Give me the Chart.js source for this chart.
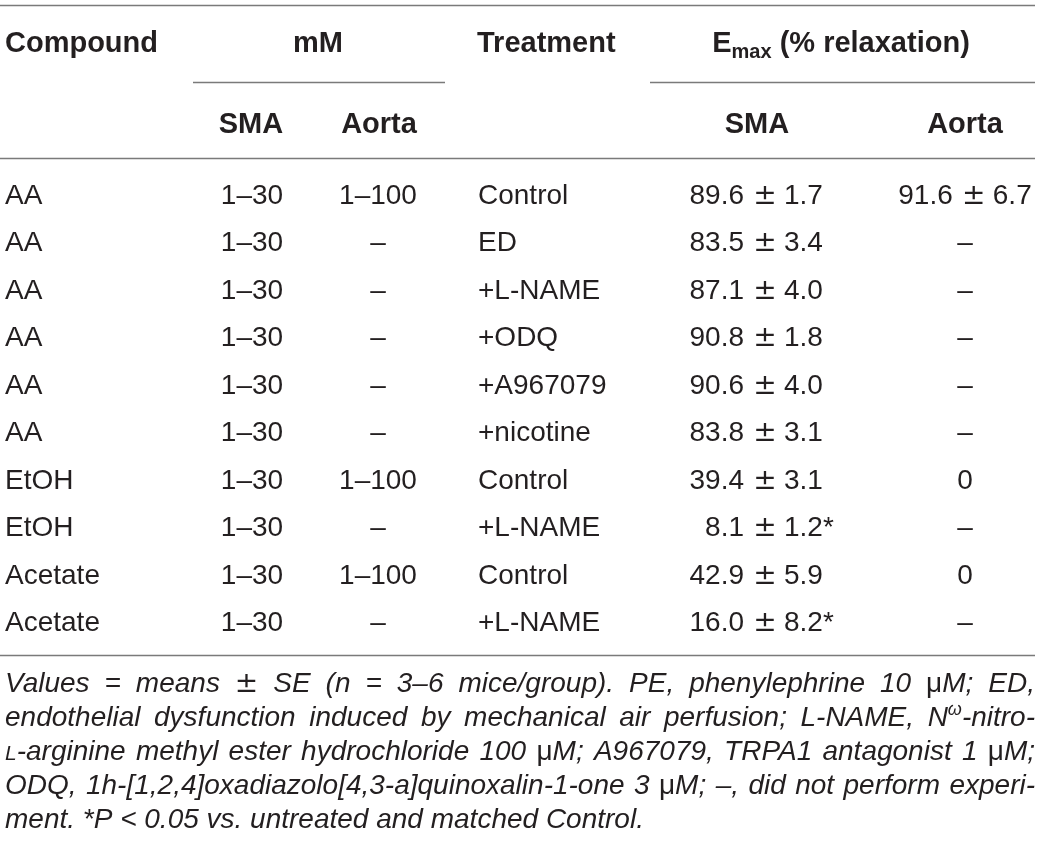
<!DOCTYPE html>
<html>
<head>
<meta charset="utf-8">
<title>Emax table</title>
<script src="https://cdn.jsdelivr.net/npm/chart.js@4.4.1/dist/chart.umd.min.js"></script>
<style>
  html, body { margin: 0; padding: 0; background: #fff; }
  #wrap { width: 1040px; height: 848px; position: relative; }
</style>
</head>
<body>
<div id="wrap"><canvas id="table"></canvas></div>
<script>
'use strict';

// Table content, one array per column
const compounds = ['AA', 'AA', 'AA', 'AA', 'AA', 'AA', 'EtOH', 'EtOH', 'Acetate', 'Acetate'];
const smaRange = ['1–30', '1–30', '1–30', '1–30', '1–30', '1–30', '1–30', '1–30', '1–30', '1–30'];
const aortaRange = ['1–100', '–', '–', '–', '–', '–', '1–100', '–', '1–100', '–'];
const treatments = ['Control', 'ED', '+L-NAME', '+ODQ', '+A967079', '+nicotine', 'Control', '+L-NAME', 'Control', '+L-NAME'];
const smaMean = [89.6, 83.5, 87.1, 90.8, 90.6, 83.8, 39.4, 8.1, 42.9, 16.0];
const smaSE = [1.7, 3.4, 4.0, 1.8, 4.0, 3.1, 3.1, 1.2, 5.9, 8.2];
const smaSignificant = [false, false, false, false, false, false, false, true, false, true];
const aortaMean = [91.6, null, null, null, null, null, 0, null, 0, null];
const aortaSE = [6.7, null, null, null, null, null, null, null, null, null];

const headerTop = ['Compound', 'mM', 'Treatment', 'E|max| (% relaxation)'];
const headerSub = ['SMA', 'Aorta', 'SMA', 'Aorta'];

const footnoteLines = [
    'Values = means ± SE (n = 3–6 mice/group). PE, phenylephrine 10 μM; ED,',
    'endothelial dysfunction induced by mechanical air perfusion; L-NAME, N^ω-nitro-',
    '~L-arginine methyl ester hydrochloride 100 μM; A967079, TRPA1 antagonist 1 μM;',
    'ODQ, 1h-[1,2,4]oxadiazolo[4,3-a]quinoxalin-1-one 3 μM; –, did not perform experi-',
    'ment. *P < 0.05 vs. untreated and matched Control.'
];

// Layout (x anchors in px, y in row units of the y scale)
const FONT = '"Liberation Sans", Arial, Helvetica, sans-serif';
const SYM = '"DejaVu Sans", sans-serif';
const INK = '#231f20';
const RULE = '#7a7a7a';
const columns = [
    { label: 'Compound', x: 5, align: 'left' },
    { label: 'mM SMA', x: 252, align: 'center' },
    { label: 'mM Aorta', x: 378, align: 'center' },
    { label: 'Treatment', x: 478, align: 'left' },
    { label: 'Emax SMA', x: 744, align: 'decimal' },
    { label: 'Emax Aorta', x: 965, align: 'center' }
];
const rows = {
    topRule: -4.194,
    header1: -3.204,
    groupRule: -2.571,
    header2: -1.497,
    headRule: -0.97,
    bottomRule: 9.506,
    note: 10.28,
    noteStep: 0.7166
};
const PM_SIGN = 21;   // ± centre offset from the anchor
const PM_SE = 40;     // SE start offset from the anchor

function aortaText(i) {
    if (aortaMean[i] === null) return '–';
    if (aortaSE[i] === null) return String(aortaMean[i]);
    return { mean: aortaMean[i], se: aortaSE[i], star: false };
}

const columnTexts = [
    compounds,
    smaRange,
    aortaRange,
    treatments,
    smaMean.map((m, i) => ({ mean: m, se: smaSE[i], star: smaSignificant[i] })),
    compounds.map((c, i) => aortaText(i))
];

// mean right-aligned on the anchor, then ± and SE
function drawPM(ctx, anchor, y, v) {
    ctx.font = '28px ' + FONT;
    ctx.textAlign = 'right';
    ctx.fillText(v.mean.toFixed(1), anchor, y);
    ctx.textAlign = 'center';
    ctx.font = '28px ' + SYM;
    ctx.fillText('±', anchor + PM_SIGN, y);
    ctx.textAlign = 'left';
    ctx.font = '28px ' + FONT;
    const se = v.se.toFixed(1);
    ctx.fillText(se, anchor + PM_SE, y);
    if (v.star) {
        const w = ctx.measureText(se).width;
        ctx.fillText('*', anchor + PM_SE + w, y);
    }
}

function pmWidth(ctx, v) {
    ctx.font = '28px ' + FONT;
    return ctx.measureText(v.mean.toFixed(1)).width + PM_SE + ctx.measureText(v.se.toFixed(1)).width;
}

function parseRuns(word) {
    const runs = [];
    let buf = '';
    for (let i = 0; i < word.length; i++) {
        const c = word[i];
        if (c === '^' || c === '~') {
            if (buf) { runs.push({ t: buf, k: 'n' }); buf = ''; }
            runs.push({ t: word[i + 1], k: c === '^' ? 'sup' : 'sc' });
            i++;
        } else if (c === 'μ' || c === '±') {
            if (buf) { runs.push({ t: buf, k: 'n' }); buf = ''; }
            runs.push({ t: c, k: c === '±' ? 'sym' : 'up' });
        } else {
            buf += c;
        }
    }
    if (buf) runs.push({ t: buf, k: 'n' });
    return runs;
}

const runStyle = {
    n: { font: 'italic 28px ' + FONT, dy: 0 },
    sup: { font: 'italic 18px ' + FONT, dy: -11 },
    sc: { font: 'italic 21px ' + FONT, dy: 0 },
    up: { font: '28px ' + FONT, dy: 0 },
    sym: { font: '28px ' + SYM, dy: 0 }
};

function wordWidth(ctx, runs) {
    return runs.reduce((s, r) => {
        ctx.font = runStyle[r.k].font;
        return s + ctx.measureText(r.t).width;
    }, 0);
}

function drawWord(ctx, runs, x, y) {
    runs.forEach(r => {
        ctx.font = runStyle[r.k].font;
        ctx.fillText(r.t, x, y + runStyle[r.k].dy);
        x += ctx.measureText(r.t).width;
    });
}

function hRule(ctx, x0, x1, y) {
    ctx.beginPath();
    ctx.moveTo(x0, Math.round(y) + 0.5);
    ctx.lineTo(x1, Math.round(y) + 0.5);
    ctx.stroke();
}

const tablePlugin = {
    id: 'tableText',
    afterDatasetsDraw(chart) {
        const ctx = chart.ctx;
        const ys = chart.scales.y;
        ctx.save();
        ctx.fillStyle = INK;
        ctx.textBaseline = 'alphabetic';

        // rules
        ctx.strokeStyle = RULE;
        ctx.lineWidth = 1.3;
        hRule(ctx, 0, 1035, ys.getPixelForValue(rows.topRule));
        hRule(ctx, 193, 445, ys.getPixelForValue(rows.groupRule));
        hRule(ctx, 650, 1035, ys.getPixelForValue(rows.groupRule));
        hRule(ctx, 0, 1035, ys.getPixelForValue(rows.headRule));
        hRule(ctx, 0, 1035, ys.getPixelForValue(rows.bottomRule));

        // header rows
        const h1 = ys.getPixelForValue(rows.header1);
        const h2 = ys.getPixelForValue(rows.header2);
        const bold = 'bold 29px ' + FONT;
        ctx.font = bold;
        ctx.textAlign = 'left';
        ctx.fillText(headerTop[0], 5, h1);
        ctx.textAlign = 'center';
        ctx.fillText(headerTop[1], 318, h1);
        ctx.textAlign = 'left';
        ctx.fillText(headerTop[2], 477, h1);

        const parts = headerTop[3].split('|');
        ctx.font = bold;
        const wE = ctx.measureText(parts[0]).width;
        const wRest = ctx.measureText(parts[2]).width;
        ctx.font = 'bold 20px ' + FONT;
        const wSub = ctx.measureText(parts[1]).width;
        const hx = 841 - (wE + wSub + wRest) / 2;
        ctx.font = bold;
        ctx.fillText(parts[0], hx, h1);
        ctx.font = 'bold 20px ' + FONT;
        ctx.fillText(parts[1], hx + wE, h1 + 6);
        ctx.font = bold;
        ctx.fillText(parts[2], hx + wE + wSub, h1);

        ctx.textAlign = 'center';
        ctx.fillText(headerSub[0], 251, h2);
        ctx.fillText(headerSub[1], 379, h2);
        ctx.fillText(headerSub[2], 757, h2);
        ctx.fillText(headerSub[3], 965, h2);

        // body cells, placed at the dataset points
        chart.data.datasets.forEach((ds, di) => {
            const col = columns[di];
            const texts = columnTexts[di];
            chart.getDatasetMeta(di).data.forEach((pt, i) => {
                const v = texts[i];
                if (typeof v === 'object') {
                    if (col.align === 'decimal') {
                        drawPM(ctx, pt.x, pt.y, v);
                    } else {
                        const w = pmWidth(ctx, v);
                        ctx.font = '28px ' + FONT;
                        const mw = ctx.measureText(v.mean.toFixed(1)).width;
                        drawPM(ctx, pt.x - w / 2 + mw, pt.y, v);
                    }
                    return;
                }
                ctx.font = '28px ' + FONT;
                ctx.textAlign = col.align === 'decimal' ? 'center' : col.align;
                ctx.fillText(v, pt.x, pt.y);
            });
        });

        // footnote, justified
        ctx.textAlign = 'left';
        footnoteLines.forEach((line, li) => {
            const y = ys.getPixelForValue(rows.note + li * rows.noteStep);
            const words = line.split(' ').map(parseRuns);
            const widths = words.map(w => wordWidth(ctx, w));
            const total = widths.reduce((a, b) => a + b, 0);
            ctx.font = runStyle.n.font;
            const space = ctx.measureText(' ').width;
            const last = li === footnoteLines.length - 1;
            let gap = last ? space : (1035 - 5 - total) / (words.length - 1);
            if (gap < space * 0.5) gap = space * 0.5;
            let x = 5;
            words.forEach((w, wi) => {
                drawWord(ctx, w, x, y);
                x += widths[wi] + gap;
            });
        });
        ctx.restore();
    }
};

const datasets = columns.map((col, ci) => ({
    label: col.label,
    data: columnTexts[ci].map((t, i) => ({ x: col.x, y: i })),
    pointRadius: 0,
    pointHoverRadius: 0,
    showLine: false
}));

new Chart(document.getElementById('table'), {
    type: 'scatter',
    data: { datasets: datasets },
    options: {
        responsive: true,
        maintainAspectRatio: false,
        animation: false,
        events: [],
        layout: { padding: 0 },
        plugins: { legend: { display: false }, tooltip: { enabled: false } },
        scales: {
            x: { type: 'linear', display: false, min: 0, max: 1040 },
            y: { type: 'linear', display: false, reverse: true, min: -4.3, max: 13.574 }
        }
    },
    plugins: [tablePlugin]
});
</script>
</body>
</html>
